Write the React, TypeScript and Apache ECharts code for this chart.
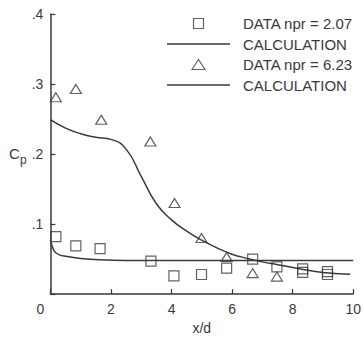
import React, { useEffect, useRef } from "react";
import * as echarts from "echarts";

// Measured data (npr = 2.07), squares
const dataA_x = [0.18, 0.84, 1.64, 3.32, 4.08, 4.99, 5.82, 6.68, 7.48, 8.33, 8.33, 9.15, 9.15];
const dataA_y = [0.082, 0.069, 0.065, 0.047, 0.026, 0.028, 0.037, 0.050, 0.039, 0.036, 0.031, 0.032, 0.028];

// Measured data (npr = 6.23), triangles
const dataB_x = [0.18, 0.84, 1.68, 3.3, 4.1, 4.99, 5.82, 6.68, 7.48];
const dataB_y = [0.281, 0.293, 0.249, 0.218, 0.130, 0.080, 0.053, 0.030, 0.025];

// Calculation curve for npr = 2.07
const calcA_x = [0, 0.08, 0.15, 0.3, 0.5, 1.0, 1.6, 2.5, 4, 6, 8, 10];
const calcA_y = [0.077, 0.066, 0.060, 0.056, 0.054, 0.051, 0.049, 0.048, 0.048, 0.048, 0.048, 0.048];

// Calculation curve for npr = 6.23
const calcB_x = [0, 0.5, 1.0, 1.5, 2.0, 2.5, 3.0, 3.5, 4.0, 4.5, 5.0, 5.5, 6.0, 6.5, 7.0, 7.5, 8.0, 8.5, 9.0, 9.5, 9.9];
const calcB_y = [0.249, 0.237, 0.229, 0.224, 0.221, 0.207, 0.168, 0.129, 0.106, 0.090, 0.077, 0.066, 0.057, 0.051, 0.046, 0.042, 0.038, 0.034, 0.031, 0.029, 0.0285];

const xTicks = { min: 0, max: 10, interval: 2 };
const yTicks = { min: 0, max: 0.4, interval: 0.1 };

const INK = "#3a3a3a";
const FONT = "'Liberation Sans', Arial, sans-serif";

const zip = (xs: number[], ys: number[]) => xs.map((x, i) => [x, ys[i]]);

const ICON_SQUARE = "path://M0,0L10,0L10,10L0,10Z";
const ICON_TRIANGLE = "path://M0,10L6.5,0L13,10Z";
const ICON_LINE = "path://M0,0L63,0L63,1.5L0,1.5Z";

export default function App() {
  const ref = useRef<HTMLDivElement>(null);
  useEffect(() => {
    document.body.style.margin = "0";
    if (!ref.current) return;
    const chart = echarts.init(ref.current, null, { renderer: "svg" });
    const hollow = { color: "rgba(255,255,255,0)", borderColor: INK, borderWidth: 1.2 };
    const solid = { color: INK, borderWidth: 0 };
    chart.setOption({
      animation: false,
      backgroundColor: "#ffffff",
      textStyle: { fontFamily: FONT, color: INK },
      grid: { left: 50.4, right: 1.6, top: 14, bottom: 37, containLabel: false },
      legend: {
        orient: "vertical",
        left: 167,
        top: 16,
        padding: 0,
        itemWidth: 63,
        itemHeight: 10,
        itemGap: 5.5,
        symbolKeepAspect: true,
        selectedMode: false,
        formatter: (name: string) => name.replace(/_\d$/, ""),
        textStyle: { fontSize: 15, color: INK, fontFamily: FONT, padding: [0, 0, 0, 8] },
        data: [
          { name: "DATA npr = 2.07", icon: ICON_SQUARE, itemStyle: hollow },
          { name: "CALCULATION_1", icon: ICON_LINE, itemStyle: solid },
          { name: "DATA npr = 6.23", icon: ICON_TRIANGLE, itemStyle: hollow },
          { name: "CALCULATION_2", icon: ICON_LINE, itemStyle: solid },
        ],
      },
      graphic: [
        { type: "text", left: 9, top: 146, style: { text: "C", fontSize: 15, fontFamily: FONT, fill: INK } },
        { type: "text", left: 20, top: 154, style: { text: "p", fontSize: 12, fontFamily: FONT, fill: INK } },
      ],
      xAxis: {
        type: "value",
        min: xTicks.min,
        max: xTicks.max,
        interval: xTicks.interval,
        name: "x/d",
        nameLocation: "middle",
        nameGap: 33,
        nameTextStyle: { fontSize: 14, color: INK, fontFamily: FONT, verticalAlign: "middle" },
        axisLine: { lineStyle: { color: INK, width: 1.5 } },
        axisTick: { inside: true, length: 5, lineStyle: { color: INK, width: 1.2 } },
        splitLine: { show: false },
        axisLabel: {
          fontSize: 14,
          color: INK,
          fontFamily: FONT,
          margin: 8,
          formatter: (v: number) => (v === 0 ? "{z|0}" : String(v)),
          rich: { z: { fontSize: 14, color: INK, fontFamily: FONT, padding: [0, 20, 0, 0] } },
        },
      },
      yAxis: {
        type: "value",
        min: yTicks.min,
        max: yTicks.max,
        interval: yTicks.interval,
        axisLine: { show: true, lineStyle: { color: INK, width: 1.5 } },
        axisTick: { show: true, inside: true, length: 5, lineStyle: { color: INK, width: 1.2 } },
        splitLine: { show: false },
        axisLabel: {
          fontSize: 14,
          color: INK,
          fontFamily: FONT,
          margin: 7,
          formatter: (v: number) => (v === 0 ? "" : v.toFixed(1).replace(/^0/, "")),
        },
      },
      series: [
        {
          name: "DATA npr = 2.07",
          type: "scatter",
          symbol: "rect",
          symbolSize: 10,
          itemStyle: hollow,
          data: zip(dataA_x, dataA_y),
          z: 3,
        },
        {
          name: "CALCULATION_1",
          type: "line",
          symbol: "none",
          smooth: 0.4,
          lineStyle: { color: INK, width: 1.5 },
          itemStyle: { color: INK },
          data: zip(calcA_x, calcA_y),
        },
        {
          name: "DATA npr = 6.23",
          type: "scatter",
          symbol: "triangle",
          symbolSize: [11, 9],
          itemStyle: hollow,
          data: zip(dataB_x, dataB_y),
          z: 3,
        },
        {
          name: "CALCULATION_2",
          type: "line",
          symbol: "none",
          smooth: 0.5,
          lineStyle: { color: INK, width: 1.5 },
          itemStyle: { color: INK },
          data: zip(calcB_x, calcB_y),
        },
      ],
    });
    return () => chart.dispose();
  }, []);
  return <div ref={ref} style={{ width: 364, height: 340 }} />;
}
